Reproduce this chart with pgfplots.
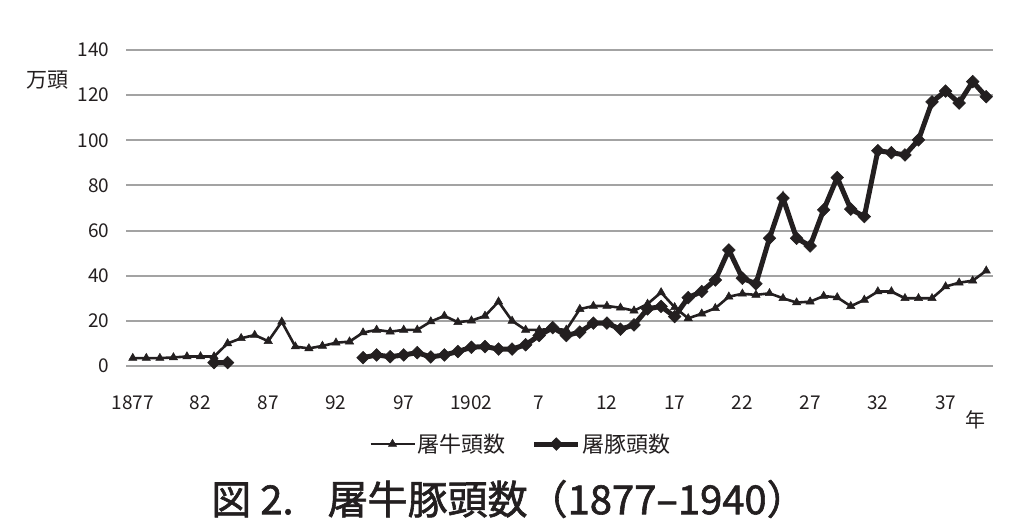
\documentclass[border=0pt]{standalone}
\usepackage{fontspec}
\setmainfont{Noto Sans CJK JP}
\newfontfamily\titlefont[FakeBold=1.5]{Noto Sans CJK JP}
\usepackage{pgfplots}
\pgfplotsset{compat=1.18}
\definecolor{ink}{HTML}{231F20}
\definecolor{gridgray}{HTML}{A3A3A3}
\begin{document}
\begin{tikzpicture}[x=1pt,y=1pt]
\useasboundingbox (0,0) rectangle (1009,527);
\begin{axis}[
  at={(126pt,161pt)}, anchor=south west,
  scale only axis, width=867pt, height=316pt,
  xmin=1876.5, xmax=1940.5, ymin=0, ymax=140,
  ytick={0,20,...,140},
  xtick={1877,1882,1887,1892,1897,1902,1907,1912,1917,1922,1927,1932,1937},
  xticklabels={1877,82,87,92,97,1902,7,12,17,22,27,32,37},
  ymajorgrids, major grid style={color=gridgray, line width=2pt},
  axis line style={draw=none},
  major tick length=0pt,
  /pgf/number format/assume math mode=true,
  ticklabel style={font=\fontsize{19}{19}\selectfont, text=ink},
  yticklabel style={xshift=-13pt},
  xticklabel style={yshift=-26pt},
  clip=false,
  unbounded coords=jump,
  legend columns=2,
  legend style={at={(axis description cs:0.4556,-0.2470)}, anchor=center, draw=none, fill=none,
    font=\fontsize{22}{22}\selectfont, text=ink,
    /tikz/every even column/.append style={column sep=24pt}},
  legend image code/.code={\draw[mark repeat=2,mark phase=2,#1] plot coordinates {(0pt,0pt) (22pt,0pt) (44pt,0pt)};},
]
\addplot[color=ink, line width=2.6pt, mark=triangle*, mark size=4.8pt, mark options={line width=0.5pt}] coordinates {
(1877,3.5) (1878,3.5) (1879,3.5) (1880,3.8) (1881,4.2) (1882,4.2) (1883,4.2) (1884,10) (1885,12.3) (1886,13.7)
(1887,11) (1888,19.6) (1889,8.6) (1890,7.8) (1891,8.9) (1892,10.3) (1893,10.8) (1894,14.8) (1895,16) (1896,15.2)
(1897,16) (1898,16) (1899,19.7) (1900,22.2) (1901,19.4) (1902,20.1) (1903,22.2) (1904,28.5) (1905,20) (1906,16)
(1907,16) (1908,16.5) (1909,16) (1910,25.2) (1911,26.6) (1912,26.6) (1913,25.8) (1914,24.5) (1915,27.5) (1916,32.6)
(1917,26) (1918,21.1) (1919,23.2) (1920,25.6) (1921,30.7) (1922,32) (1923,31.5) (1924,32.2) (1925,30) (1926,28.1)
(1927,28.5) (1928,31) (1929,30.4) (1930,26.5) (1931,29.3) (1932,33) (1933,33) (1934,30) (1935,30) (1936,30)
(1937,35.2) (1938,36.9) (1939,37.8) (1940,42.2)
};
\addlegendentry{屠牛頭数}
\addplot[color=ink, line width=5pt, mark=square*, mark size=4.5pt, mark options={rotate=45, line width=0.5pt}] coordinates {
(1883,1.5) (1884,1.5) (1885,nan)
(1894,3.7) (1895,4.9) (1896,4.1) (1897,4.9) (1898,5.9) (1899,4) (1900,4.9) (1901,6.4) (1902,8.3) (1903,8.6)
(1904,7.5) (1905,7.5) (1906,9.4) (1907,13.5) (1908,17) (1909,13.5) (1910,15) (1911,19) (1912,19) (1913,16.3)
(1914,18.2) (1915,25.3) (1916,26.4) (1917,21.9) (1918,30.3) (1919,33) (1920,38.1) (1921,51.4) (1922,38.9) (1923,36.4)
(1924,56.6) (1925,74.4) (1926,56.6) (1927,53.2) (1928,69.2) (1929,83.5) (1930,69.5) (1931,66.2) (1932,95.4) (1933,94.5)
(1934,93.5) (1935,100.2) (1936,117) (1937,121.8) (1938,116.5) (1939,126) (1940,119.3)
};
\addlegendentry{屠豚頭数}
\end{axis}
\node[font=\fontsize{21}{21}\selectfont, text=ink] at (48,447) {万頭};
\node[font=\fontsize{20}{20}\selectfont, text=ink] at (975,107) {年};
\node[font=\titlefont\fontsize{40}{40}\selectfont, text=ink] at (509,28) {図 2.\hspace{0.85em}屠牛豚頭数（1877–1940）};
\end{tikzpicture}
\end{document}
